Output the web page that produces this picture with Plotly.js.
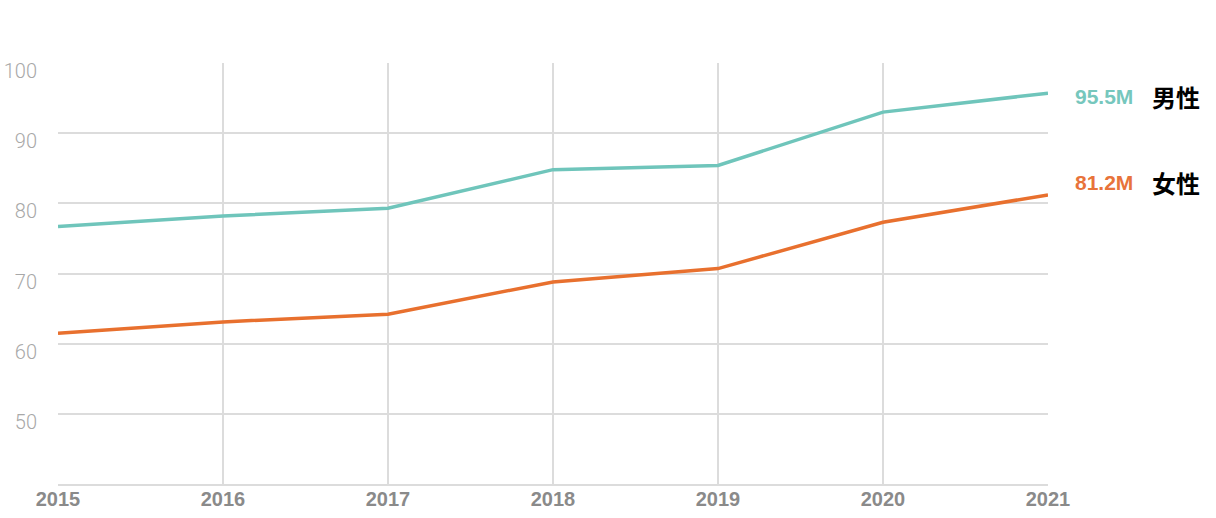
<!DOCTYPE html>
<html>
<head>
<meta charset="utf-8">
<script src="https://cdn.plot.ly/plotly-3.0.1.min.js"></script>
<style>
  html, body { margin: 0; padding: 0; background: #fff; }
  #chart { width: 1216px; height: 518px; }
</style>
</head>
<body>
<div id="chart"></div>
<script>
// years and values (millions)
const years = [2015, 2016, 2017, 2018, 2019, 2020, 2021];
const male = [76.7, 78.2, 79.3, 84.8, 85.4, 93.0, 95.7];
const female = [61.5, 63.1, 64.2, 68.8, 70.7, 77.3, 81.2];
const seriesNames = ["男性", "女性"];
const endValueLabels = ["95.5M", "81.2M"];
const yTicks = [50, 60, 70, 80, 90, 100];

const TEAL = "#6fc5bb";
const ORANGE = "#e8702e";

function endLabels(values, valueText, name, color, yshift) {
  const last = values[values.length - 1];
  return [
    {
      x: years[years.length - 1], y: last, xref: "x", yref: "y",
      text: valueText, showarrow: false,
      xanchor: "left", xshift: 25, yshift: yshift,
      font: { family: "Liberation Sans, Arial, sans-serif", size: 21, weight: 700, color: color },
    },
    {
      x: years[years.length - 1], y: last, xref: "x", yref: "y",
      text: name, showarrow: false,
      xanchor: "left", xshift: 102, yshift: yshift,
      font: { family: "Noto Sans CJK SC, sans-serif", size: 24, weight: 700, color: "#000" },
    },
  ];
}

Plotly.newPlot("chart", [
  {
    type: "scatter", mode: "lines", x: years, y: male, name: seriesNames[0],
    line: { color: TEAL, width: 3.5 }, hoverinfo: "skip",
  },
  {
    type: "scatter", mode: "lines", x: years, y: female, name: seriesNames[1],
    line: { color: ORANGE, width: 3.5 }, hoverinfo: "skip",
  },
], {
  width: 1216,
  height: 518,
  paper_bgcolor: "#fff",
  plot_bgcolor: "#fff",
  showlegend: false,
  margin: { l: 58, r: 168, t: 63, b: 34 },
  xaxis: {
    range: [2015, 2021],
    tickvals: years,
    showgrid: true,
    gridcolor: "#dcdcdc",
    gridwidth: 2,
    showline: true,
    linecolor: "#dcdcdc",
    linewidth: 2,
    zeroline: false,
    ticks: "",
    ticklabelstandoff: -4,
    tickfont: { family: "Liberation Sans, Arial, sans-serif", size: 20, weight: 700, color: "#8a8a8a" },
  },
  yaxis: {
    range: [40, 100],
    tickvals: yTicks,
    showgrid: true,
    gridcolor: "#dcdcdc",
    gridwidth: 2,
    zeroline: false,
    showline: false,
    ticks: "",
    ticklabelstandoff: 20,
    ticklabelshift: 8,
    tickfont: { family: "Roboto, sans-serif", size: 20, weight: 300, color: "#a8a8a8" },
  },
  annotations: [
    ...endLabels(male, endValueLabels[0], seriesNames[0], "#76c7bd", -3),
    ...endLabels(female, endValueLabels[1], seriesNames[1], "#e8733a", 12),
  ],
}, { displayModeBar: false, staticPlot: true });
</script>
</body>
</html>
